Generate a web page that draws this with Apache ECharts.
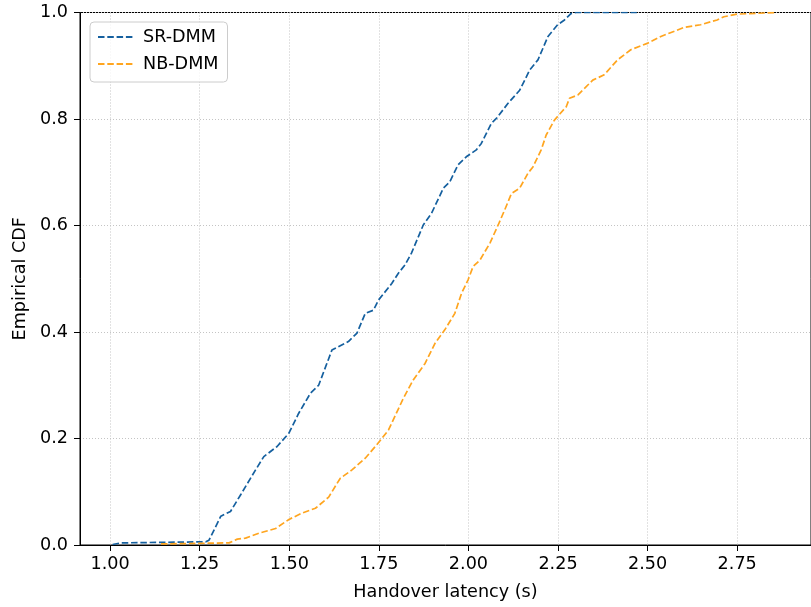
<!DOCTYPE html>
<html>
<head>
<meta charset="utf-8">
<script src="https://cdn.jsdelivr.net/npm/echarts@6/dist/echarts.min.js"></script>
<style>
  html, body { margin: 0; padding: 0; background: #fff; }
  #chart { width: 811px; height: 607px; }
</style>
</head>
<body>
<div id="chart"></div>
<script>
// ECDF points: [latency (s), cumulative fraction]
const srDmm = [
  [1.007, 0.001], [1.031, 0.004], [1.267, 0.006], [1.276, 0.009], [1.309, 0.054],
  [1.336, 0.063], [1.364, 0.094], [1.406, 0.141], [1.429, 0.166], [1.466, 0.185],
  [1.499, 0.210], [1.526, 0.247], [1.559, 0.285], [1.582, 0.300], [1.619, 0.366],
  [1.665, 0.382], [1.689, 0.398], [1.712, 0.435], [1.735, 0.441], [1.749, 0.460],
  [1.786, 0.491], [1.804, 0.510], [1.823, 0.526], [1.841, 0.548], [1.874, 0.601],
  [1.897, 0.623], [1.930, 0.670], [1.948, 0.682], [1.971, 0.714], [1.994, 0.729],
  [2.022, 0.742], [2.036, 0.754], [2.064, 0.792], [2.078, 0.801], [2.110, 0.829],
  [2.143, 0.854], [2.171, 0.892], [2.194, 0.911], [2.222, 0.955], [2.249, 0.977],
  [2.268, 0.986], [2.286, 0.998], [2.300, 1.000], [2.470, 1.000]
];
const nbDmm = [
  [1.142, 0.002], [1.332, 0.004], [1.355, 0.011], [1.378, 0.013], [1.415, 0.022],
  [1.462, 0.031], [1.499, 0.048], [1.536, 0.060], [1.573, 0.069], [1.610, 0.090],
  [1.642, 0.125], [1.675, 0.141], [1.712, 0.163], [1.744, 0.188], [1.777, 0.216],
  [1.818, 0.275], [1.846, 0.310], [1.879, 0.341], [1.907, 0.379], [1.934, 0.404],
  [1.962, 0.435], [1.981, 0.473], [1.999, 0.498], [2.013, 0.523], [2.032, 0.535],
  [2.060, 0.567], [2.083, 0.601], [2.101, 0.629], [2.120, 0.660], [2.143, 0.670],
  [2.166, 0.698], [2.180, 0.710], [2.203, 0.742], [2.217, 0.770], [2.240, 0.798],
  [2.273, 0.823], [2.282, 0.839], [2.305, 0.845], [2.347, 0.873], [2.379, 0.883],
  [2.416, 0.911], [2.453, 0.930], [2.499, 0.942], [2.537, 0.955], [2.602, 0.972],
  [2.648, 0.977], [2.694, 0.986], [2.713, 0.992], [2.750, 0.997], [2.861, 1.000]
];
const xTicks = [1.00, 1.25, 1.50, 1.75, 2.00, 2.25, 2.50, 2.75];
const seriesNames = ['SR-DMM', 'NB-DMM'];
const seriesColors = ['#15609f', '#ffa51f'];

const FONT = 'DejaVu Sans';
const chart = echarts.init(document.getElementById('chart'));

const gridLine = { show: true, lineStyle: { color: '#c4c4c4', width: 1, type: [1, 2] } };

chart.setOption({
  animation: false,
  textStyle: { fontFamily: FONT },
  grid: {
    left: 80,
    right: -3,
    top: 12.5,
    bottom: 62,
    show: true,
    borderColor: '#000',
    borderWidth: 1,
    backgroundColor: 'transparent',
  },
  legend: {
    orient: 'vertical',
    left: 90,
    top: 22,
    padding: [6, 9, 9, 7],
    itemGap: 9,
    itemWidth: 35,
    itemHeight: 10,
    backgroundColor: 'rgba(255,255,255,0.8)',
    borderColor: '#cccccc',
    borderWidth: 1,
    borderRadius: 4,
    // hide the marker dot, keep only the dashed line
    itemStyle: { color: 'rgba(0,0,0,0)', borderWidth: 0, opacity: 0 },
    textStyle: { fontFamily: FONT, fontSize: 17.6, color: '#000', lineHeight: 18, padding: [0, 0, 0, 5] },
    data: seriesNames,
  },
  xAxis: {
    type: 'value',
    min: 0.916,
    max: 2.956,
    name: 'Handover latency (s)',
    nameLocation: 'middle',
    nameGap: 38,
    nameTextStyle: { fontFamily: FONT, fontSize: 17.6, color: '#000' },
    axisLine: { show: true, onZero: false, lineStyle: { color: '#000', width: 1 } },
    axisTick: { show: true, inside: false, length: 6, customValues: xTicks, lineStyle: { color: '#000' } },
    axisLabel: {
      customValues: xTicks,
      margin: 10,
      fontFamily: FONT,
      fontSize: 17.6,
      color: '#000',
      formatter: (v) => v.toFixed(2),
    },
    splitLine: gridLine,
  },
  yAxis: {
    type: 'value',
    min: 0,
    max: 1,
    interval: 0.2,
    name: 'Empirical CDF',
    nameLocation: 'middle',
    nameGap: 50,
    nameTextStyle: { fontFamily: FONT, fontSize: 17.6, color: '#000' },
    axisLine: { show: true, lineStyle: { color: '#000', width: 1 } },
    axisTick: { show: true, inside: false, length: 6, lineStyle: { color: '#000' } },
    axisLabel: {
      margin: 12,
      fontFamily: FONT,
      fontSize: 17.6,
      color: '#000',
      formatter: (v) => v.toFixed(1),
    },
    splitLine: gridLine,
  },
  series: [
    {
      name: seriesNames[0],
      type: 'line',
      data: srDmm,
      symbol: 'none',
      color: seriesColors[0],
      lineStyle: { color: seriesColors[0], width: 1.7, type: [6.5, 2.8] },
    },
    {
      name: seriesNames[1],
      type: 'line',
      data: nbDmm,
      symbol: 'none',
      color: seriesColors[1],
      lineStyle: { color: seriesColors[1], width: 1.7, type: [6.5, 2.8] },
    },
  ],
});
</script>
</body>
</html>
